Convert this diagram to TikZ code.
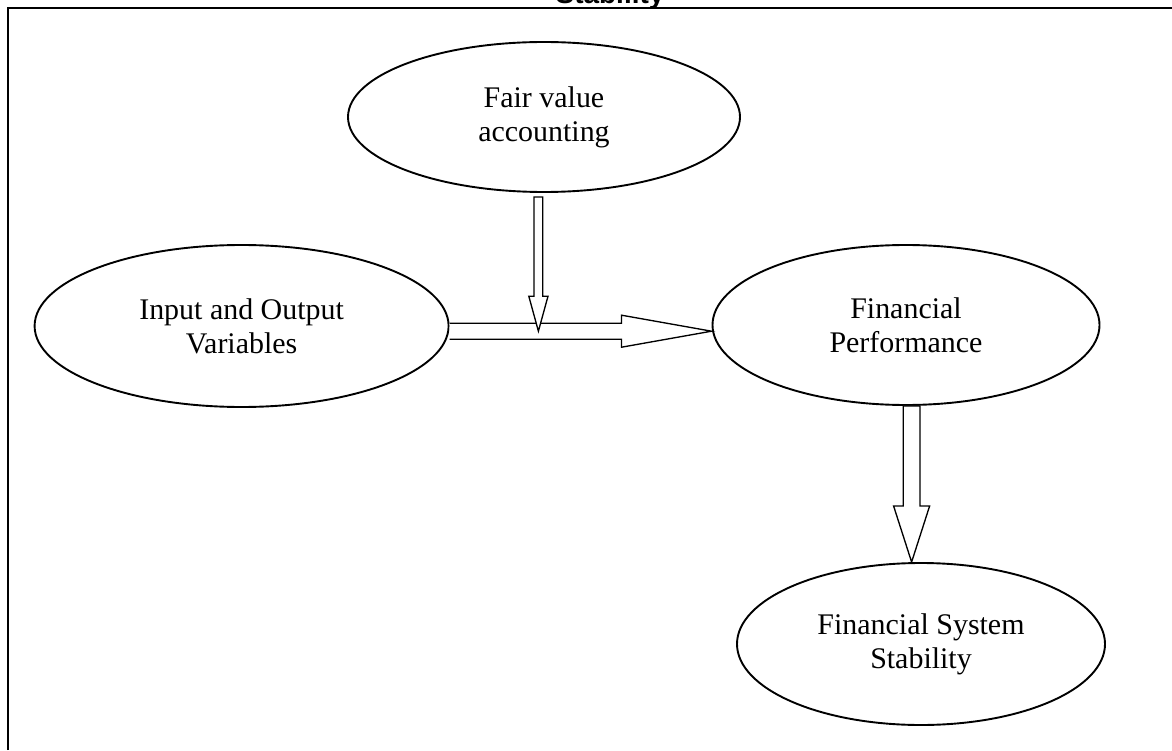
\documentclass[tikz,border=0pt]{standalone}
\usepackage{fontspec}
\setmainfont{Liberation Serif}
\newfontfamily\headfont{Liberation Sans}
\usetikzlibrary{calc,shapes.geometric}
\newcommand{\arrowline}{0.95pt}
\newcommand{\ovalline}{1.35pt}

\begin{document}
\begin{tikzpicture}[
  oval/.style={ellipse, draw, line width=\ovalline, inner sep=0pt, align=center,
    font=\fontsize{21.3}{24.2}\selectfont},
  blockarrow/.style={draw, fill=white, line width=\arrowline, line join=miter}]
\useasboundingbox (0,0) rectangle (29.3,18.75);
%frame
\node[font=\headfont\bfseries\fontsize{19.9}{22}\selectfont, anchor=base] (head) at (15.25,18.65) {Stability};
\draw[line width=1.5pt] (0.19,0) -- (0.19,18.54) -- (29.3,18.54);
%ovals
\node[oval, minimum width=9.8cm, minimum height=3.75cm] (fair) at (13.6,15.825) {Fair value\\accounting};
\node[oval, minimum width=10.35cm, minimum height=4.05cm] (io) at (6.04,10.6) {Input and Output\\Variables};
\node[oval, minimum width=9.675cm, minimum height=4.0cm] (perf) at (22.65,10.625) {Financial\\Performance};
\node[oval, minimum width=9.2cm, minimum height=4.05cm] (stab) at (23.025,2.65) {Financial System\\Stability};
%arrow ends
\coordinate (a1) at ([yshift=-0.13cm]io.east);
\coordinate (a2) at (perf.west |- a1);
\coordinate (b1) at ([xshift=-0.14cm,yshift=-0.1cm]fair.south);
\coordinate (b2) at (b1 |- a1);
\coordinate (c1) at ([xshift=0.14cm]perf.south);
\coordinate (c2) at (c1 |- stab.north);
%io -> perf
\coordinate (ah) at ($(a2)!2.25cm!(a1)$);
\draw[blockarrow] ($(a1)!0.2cm!90:(a2)$) -- ($(ah)!0.2cm!90:(a2)$) -- ($(ah)!0.4cm!90:(a2)$) -- (a2)
  -- ($(ah)!0.4cm!-90:(a2)$) -- ($(ah)!0.2cm!-90:(a2)$) -- ($(a1)!0.2cm!-90:(a2)$);
%fair -> arrow
\coordinate (bh) at ($(b2)!0.875cm!(b1)$);
\draw[blockarrow] ($(b1)!0.11cm!90:(b2)$) -- ($(bh)!0.11cm!90:(b2)$) -- ($(bh)!0.24cm!90:(b2)$) -- (b2)
  -- ($(bh)!0.24cm!-90:(b2)$) -- ($(bh)!0.11cm!-90:(b2)$) -- ($(b1)!0.11cm!-90:(b2)$) -- cycle;
%perf -> stab
\coordinate (ch) at ($(c2)!1.4cm!(c1)$);
\draw[blockarrow] ($(c1)!0.21cm!90:(c2)$) -- ($(ch)!0.21cm!90:(c2)$) -- ($(ch)!0.45cm!90:(c2)$) -- (c2)
  -- ($(ch)!0.45cm!-90:(c2)$) -- ($(ch)!0.21cm!-90:(c2)$) -- ($(c1)!0.21cm!-90:(c2)$) -- cycle;
\end{tikzpicture}
\end{document}
